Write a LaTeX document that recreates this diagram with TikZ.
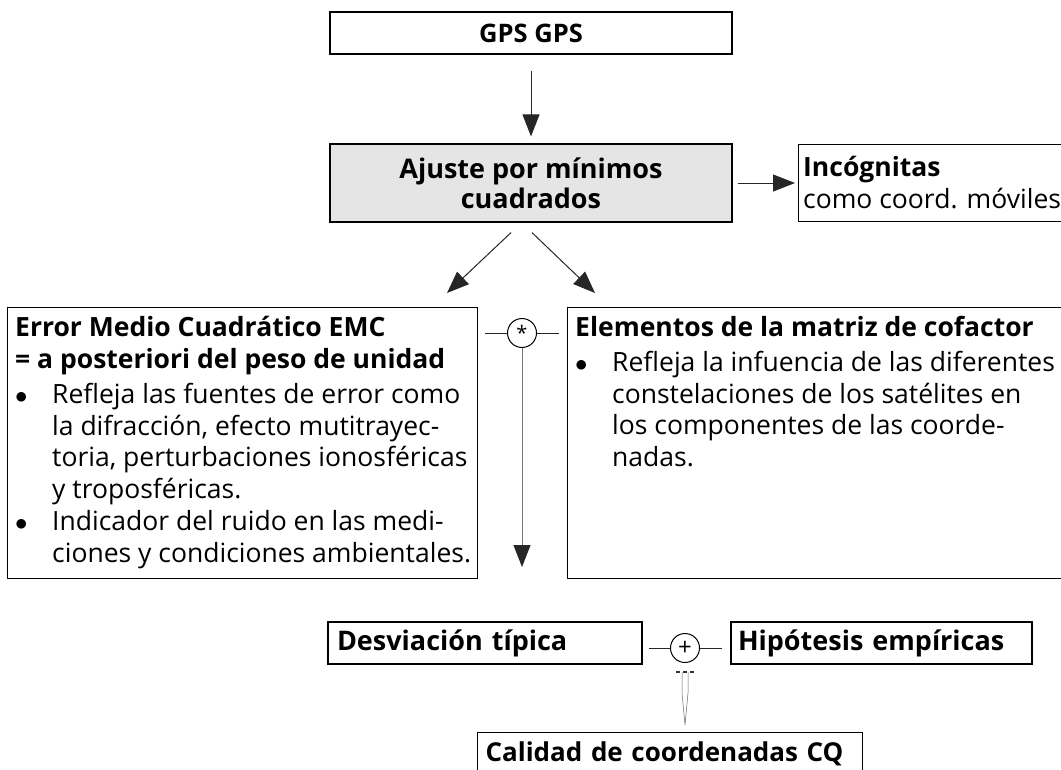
\documentclass[tikz,border=0pt]{standalone}
\usepackage{fontspec}
\setmainfont{Open Sans}
\usetikzlibrary{arrows.meta,positioning}
\newcommand{\bulpt}{\makebox[37pt][l]{$\bullet$}}
\newcommand{\bulind}{\hspace*{37pt}}
\begin{document}
\begin{tikzpicture}
[x=1pt, y=-1pt, font=\fontsize{26.5}{31.5}\selectfont,
 >={Triangle[length=22pt,width=17pt]}]
\tikzstyle{box}=[draw, line width=1.2pt, rectangle, inner sep=0pt]
\tikzstyle{tag}=[box, font=\fontsize{27}{31.5}\selectfont\bfseries, align=left, minimum height=42pt]
\tikzstyle{txt}=[inner sep=0pt, align=left, anchor=north west]
\tikzstyle{link}=[line width=1pt, draw=black!85]
\tikzstyle{joint}=[circle, draw, line width=1pt, minimum size=29pt, inner sep=0pt]
\clip (0,0) rectangle (1061,769);

% upper chain
\node[box, minimum width=402pt, minimum height=42pt, font=\fontsize{25.5}{28}\selectfont\bfseries] (gps) at (531,33) {GPS GPS};
\node[box, fill=black!10, minimum width=402pt, minimum height=78pt, font=\fontsize{27}{30}\selectfont\bfseries, align=center] (ajuste) at (531,183) {Ajuste por mínimos\\cuadrados};
\node[box, anchor=north west, minimum width=300pt, minimum height=77pt] (incog) at (798,144) {};
\node[txt] (incog-txt) at ([shift={(5,12)}]incog.north west) {\textbf{Incógnitas}\\como coord. móviles};

\draw[link,->, shorten <=16pt, shorten >=7pt] (gps) -- (ajuste);
\draw[link,->, shorten <=5pt, shorten >=3pt] (ajuste.east) -- (ajuste.east -| incog.west);

% error boxes
\node[box, anchor=north west, minimum width=470pt, minimum height=271pt] (emc) at (7,307) {};
\node[box, anchor=north west, minimum width=520pt, minimum height=271pt] (cof) at (567,307) {};
\node[txt] (emc-txt) at ([shift={(8,9)}]emc.north west) {%
\textbf{Error Medio Cuadrático EMC}\\
\textbf{= a posteriori del peso de unidad}\\[4pt]
\bulpt Refleja las fuentes de error como\\
\bulind la difracción, efecto mutitrayec-\\
\bulind toria, perturbaciones ionosféricas\\
\bulind y troposféricas.\\[1pt]
\bulpt Indicador del ruido en las medi-\\
\bulind ciones y condiciones ambientales.};
\node[txt] (cof-txt) at ([shift={(8,9)}]cof.north west) {%
\textbf{Elementos de la matriz de cofactor}\\[4pt]
\bulpt Refleja la infuencia de las diferentes\\
\bulind constelaciones de los satélites en\\
\bulind los componentes de las coorde-\\
\bulind nadas.};

\coordinate (emc-in) at (447,293);
\coordinate (cof-in) at (595,293);
\draw[link,->] ([shift={(-20,10)}]ajuste.south) -- (emc-in);
\draw[link,->] ([shift={(1,10)}]ajuste.south) -- (cof-in);

\node[joint] (star) at (522,333) {\raisebox{-4pt}{\fontsize{20}{20}\selectfont *}};
\draw[link, shorten >=7pt] (star.west) -- (star.west -| emc.east);
\draw[link, shorten >=8pt] (star.east) -- (star.east -| cof.west);
\coordinate (star-out) at (522,567);
\draw[link, draw=black!55, -{Triangle[length=22pt,width=17pt,color=black!85]}] (star.south) -- (star-out);

% quality
\node[tag, text width=296pt, inner xsep=9pt] (desv) at (485,643) {Desviación típica};
\node[tag, text width=287pt, inner xsep=7pt] (hipo) at (881.5,643) {Hipótesis empíricas};
\node[joint] (plus) at (685,648) {\fontsize{24}{24}\selectfont +};
\draw[link, shorten >=6pt] (plus.west) -- (plus.west -| desv.east);
\draw[link, shorten >=8pt] (plus.east) -- (plus.east -| hipo.west);
\node[tag, text width=369pt, inner xsep=8pt, anchor=north west, font=\fontsize{26}{31.5}\selectfont\bfseries] (calidad) at (477,732) {\mbox{Calidad de coordenadas CQ}};

\coordinate (cq-in) at ([yshift=7pt]calidad.north -| plus.south);
\draw[line width=0.5pt, draw=black!60] ([shift={(-3,9)}]plus.south) -- ++(0,21) -- (cq-in) -- ([shift={(3,30)}]plus.south) -- ++(0,-21);
\draw[line width=2.5pt, draw=black!80, dash pattern=on 4pt off 3pt] ([shift={(-9,9)}]plus.south) -- ++(18,0);
\end{tikzpicture}
\end{document}
